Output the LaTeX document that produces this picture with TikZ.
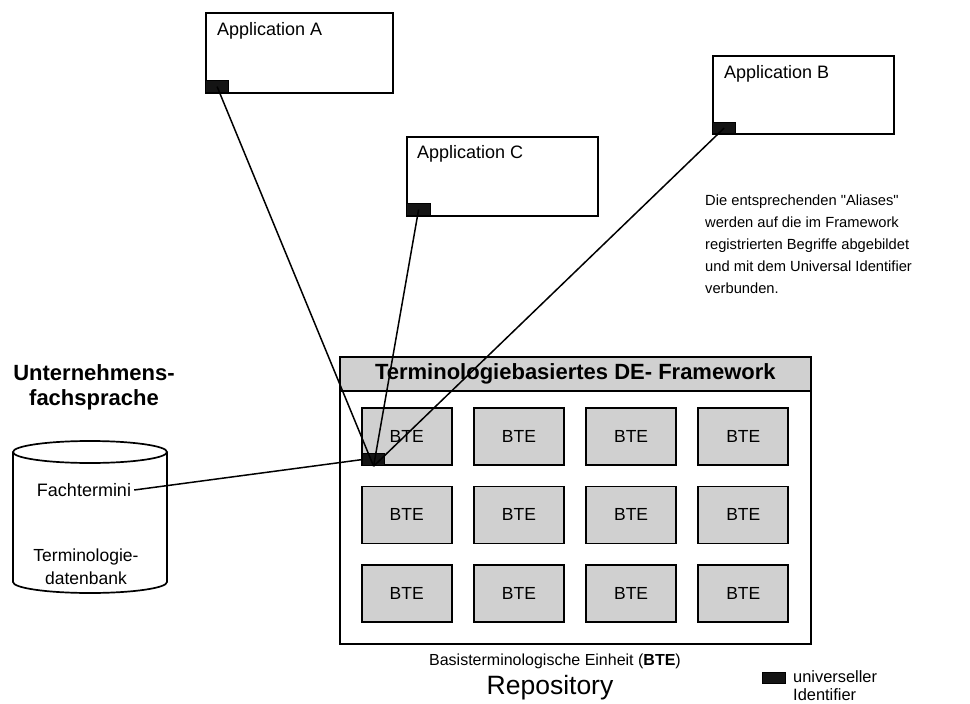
\documentclass[tikz,border=0pt]{standalone}
\usepackage{fontspec}
\setmainfont{Liberation Sans}
\usetikzlibrary{calc}
\definecolor{btegray}{HTML}{D0D0D0}
\definecolor{markfill}{HTML}{141414}
\tikzset{
  box/.style={draw=black, line width=1.7pt, rectangle, inner sep=0pt},
  appbox/.style={box, fill=white, anchor=north west},
  applabel/.style={anchor=base west, inner sep=0pt, font=\fontsize{18}{21}\selectfont},
  btebox/.style={box, fill=btegray, minimum width=90pt, minimum height=57pt,
     font=\fontsize{17.5}{20}\selectfont},
  marker/.style={draw=black, line width=1.2pt, fill=markfill, anchor=north west, inner sep=0pt},
  conn/.style={draw=black, line width=1.5pt},
}
\begin{document}
\begin{tikzpicture}[x=1pt,y=-1pt]
\useasboundingbox (0,0) rectangle (970,704);
% applications
\node[appbox, minimum width=187pt, minimum height=80pt] (appA) at (205,12) {};
\node[applabel] (labA) at ($(appA.north west)+(12,23)$) {Application A};
\node[appbox, minimum width=181pt, minimum height=78pt] (appB) at (712,55) {};
\node[applabel] (labB) at ($(appB.north west)+(12,23)$) {Application B};
\node[appbox, minimum width=191pt, minimum height=79pt] (appC) at (406,136) {};
\node[applabel] (labC) at ($(appC.north west)+(11,22)$) {Application C};
% framework
\node[box, fill=white, minimum width=471pt, minimum height=287pt, anchor=north west] (fw) at (339,356) {};
\node[box, fill=btegray, minimum width=471pt, minimum height=34pt, anchor=north west,
      font=\bfseries\fontsize{22}{25}\selectfont] (fwhead) at (339,356) {Terminologiebasiertes DE- Framework};
\foreach \i in {0,1,2,3}{
  \foreach \j in {0,1,2}{
    \node[btebox] (bte-\i-\j) at ({406.7+112.2*\i},{436.5+78.4*\j}) {BTE};
  }
}
% database cylinder
\draw[line width=1.7pt, fill=white] (13,452) -- (13,582) arc[start angle=180, end angle=0, x radius=77, y radius=11] -- (167,452);
\draw[line width=1.7pt] (90,452) ellipse [x radius=77, y radius=11];
\node[inner sep=3pt, font=\fontsize{18}{21}\selectfont] (fach) at (84,490) {Fachtermini};
\node[inner sep=0pt, align=center, font=\fontsize{17.5}{23}\selectfont] (tdb) at (86,567) {Terminologie-\\datenbank};
\node[inner sep=0pt, align=center, anchor=north, font=\bfseries\fontsize{22}{25}\selectfont] (ufs) at (94,364) {Unternehmens-\\fachsprache};
% identifier markers
\node[marker, minimum width=23pt, minimum height=12pt] (mkA) at (205,80) {};
\node[marker, minimum width=23pt, minimum height=11pt] (mkB) at (712,122) {};
\node[marker, minimum width=24pt, minimum height=12pt] (mkC) at (406,203) {};
\node[marker, minimum width=22pt, minimum height=12pt] (mkF) at (362,453) {};
% connectors
\draw[conn] (mkA.center) -- (mkF.south);
\draw[conn] (mkC.center) -- (mkF.south);
\draw[conn] (mkB.center) -- (mkF.south);
\draw[conn] (fach.east) -- (mkF.west);
% texts
\node[anchor=north west, inner sep=0pt, align=left, font=\fontsize{14.7}{22}\selectfont] (note) at (705,195)
  {Die entsprechenden \textquotedbl Aliases\textquotedbl\\werden auf die im Framework\\registrierten Begriffe abgebildet\\und mit dem Universal Identifier\\verbunden.};
\node[inner sep=0pt, font=\fontsize{16}{19}\selectfont] (bte-cap) at (555,661) {Basisterminologische Einheit (\textbf{BTE})};
\node[inner sep=0pt, font=\fontsize{26.5}{30}\selectfont] (repo) at (550,688) {Repository};
% legend
\node[marker, minimum width=23pt, minimum height=11pt] (mkL) at (762,672) {};
\node[anchor=north west, inner sep=0pt, align=left, font=\fontsize{16.4}{18}\selectfont] (legend) at (793,670) {universeller\\Identifier};
\end{tikzpicture}
\end{document}
